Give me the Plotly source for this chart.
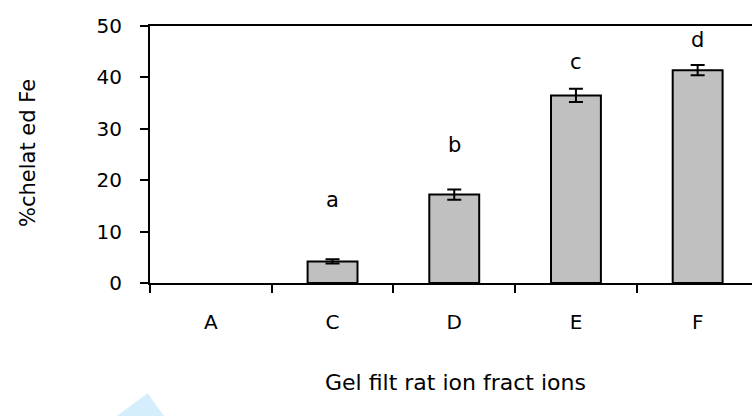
import plotly.graph_objects as go

categories = ["A", "C", "D", "E", "F"]
values = [0.0, 4.2, 17.2, 36.5, 41.4]
errors = [0.0, 0.4, 1.0, 1.3, 1.0]
letters = ["", "a", "b", "c", "d"]
letter_y = [None, 16.1, 26.8, 43.0, 47.3]

W, H = 752, 416
L, R, T, B = 150, 0, 26, 133
pw, ph = W - L - R, H - T - B

def px(x):
    return (x - L) / pw

def py(y):
    return (H - B - y) / ph

FONT = "DejaVu Sans, Liberation Sans, Arial, sans-serif"

# a zero-height bar is invisible in the reference; plot it as empty
plot_vals = [v if v > 0 else None for v in values]
plot_errs = [e if v > 0 else None for v, e in zip(values, errors)]

fig = go.Figure()
fig.add_trace(go.Bar(
    x=categories, y=plot_vals,
    marker=dict(color="#c0c0c0", line=dict(color="black", width=2)),
    width=0.41,
    error_y=dict(type="data", array=plot_errs, visible=True, color="black",
                 thickness=2, width=7),
))

for c, t, yv in zip(categories, letters, letter_y):
    if t:
        fig.add_annotation(x=c, y=yv, text=t, showarrow=False,
                           xanchor="center", yanchor="middle",
                           font=dict(size=21, color="black", family=FONT))

fig.add_annotation(xref="paper", yref="paper", x=px(28), y=py(153),
                   text="%chelat ed Fe", textangle=-90, showarrow=False,
                   xanchor="center", yanchor="middle",
                   font=dict(size=21, color="black", family=FONT))
fig.add_annotation(xref="paper", yref="paper", x=px(455), y=py(382),
                   text="Gel filt rat ion fract ions", showarrow=False,
                   xanchor="center", yanchor="middle",
                   font=dict(size=22, color="black", family=FONT))

fig.add_shape(type="path", xref="paper", yref="paper",
              path=f"M {px(116.7)} {py(416)} L {px(147.7)} {py(393.3)} L {px(164)} {py(416)} Z",
              fillcolor="#d4effb", line=dict(width=0), layer="below")

fig.update_layout(
    width=W, height=H,
    margin=dict(l=L, r=R, t=T, b=B),
    paper_bgcolor="white", plot_bgcolor="white",
    showlegend=False,
    font=dict(family=FONT, size=20, color="black"),
    xaxis=dict(
        type="category", range=[-0.5, -0.5 + pw / 121.7],
        showline=True, linecolor="black", linewidth=2, mirror=True,
        ticks="outside", tickson="boundaries", ticklen=8, tickwidth=1.5,
        tickcolor="black", showgrid=False, zeroline=False,
        ticklabelstandoff=20, tickfont=dict(size=20),
    ),
    yaxis=dict(
        range=[0, 50], tickvals=[0, 10, 20, 30, 40, 50],
        showline=True, linecolor="black", linewidth=2,
        ticks="outside", ticklen=8, tickwidth=1.5, tickcolor="black",
        showgrid=False, zeroline=False, ticklabelstandoff=14,
        tickfont=dict(size=20),
    ),
)

fig.write_html("out.html")
